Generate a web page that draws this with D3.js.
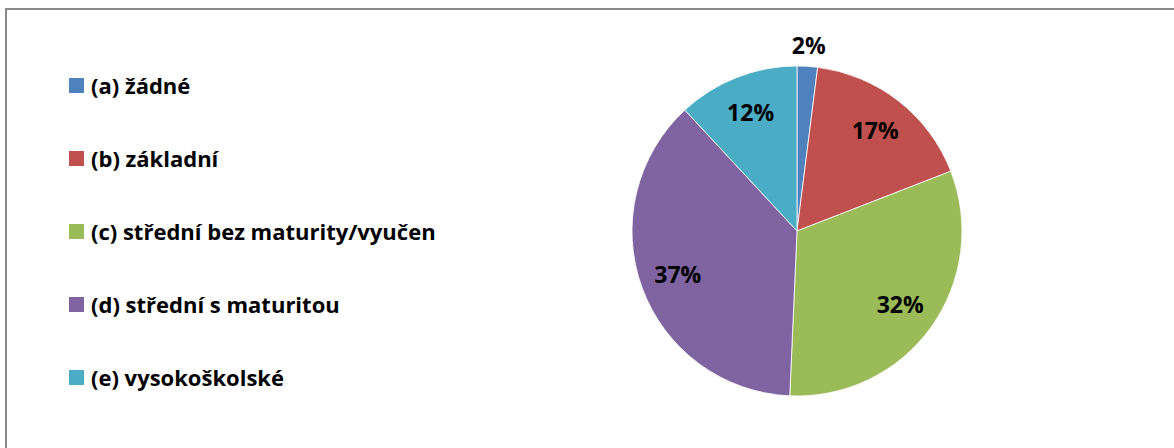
<!DOCTYPE html>
<html>
<head>
<meta charset="utf-8">
<script src="https://cdn.jsdelivr.net/npm/d3@7"></script>
<style>
  body { margin: 0; background: #fff; }
  text { font-family: "Open Sans", Lato, sans-serif; font-weight: bold; fill: #000; }
</style>
</head>
<body>
<svg id="chart" width="1174" height="448"></svg>
<script>
// education level shares (%)
const categories = ["(a) žádné", "(b) základní", "(c) střední bez maturity/vyučen", "(d) střední s maturitou", "(e) vysokoškolské"];
const values = [2.0, 17.1, 31.6, 37.4, 11.9];
const colors = ["#4F81BD", "#C0504D", "#9BBB59", "#8064A2", "#4BACC6"];

const svg = d3.select("#chart");

// chart frame (right and bottom edges run off the picture)
svg.append("rect")
    .attr("x", 6).attr("y", 9)
    .attr("width", 1200).attr("height", 500)
    .style("fill", "none")
    .style("stroke", "#898989")
    .style("stroke-width", 2);

const cx = 797, cy = 231, r = 165;

const pie = d3.pie().sort(null).value(d => d);
const arcs = pie(values);
const arc = d3.arc().innerRadius(0).outerRadius(r);
const labelArc = d3.arc().innerRadius(127).outerRadius(127);
const outerArc = d3.arc().innerRadius(186).outerRadius(186);

const g = svg.append("g").attr("transform", `translate(${cx},${cy})`);

g.selectAll("path")
    .data(arcs)
    .enter().append("path")
    .attr("d", arc)
    .style("fill", (d, i) => colors[i])
    .style("stroke", "#fff")
    .style("stroke-width", 0.8);

g.selectAll("text.pct")
    .data(arcs)
    .enter().append("text")
    .attr("class", "pct")
    .attr("transform", d => {
        // tiny slice gets its label outside the pie
        const p = (d.endAngle - d.startAngle) < 0.3 ? outerArc.centroid(d) : labelArc.centroid(d);
        return `translate(${p})`;
    })
    .attr("text-anchor", "middle")
    .attr("dy", "0.36em")
    .style("font-size", "23px")
    .text(d => Math.round(d.data) + "%");

// legend
const legend = svg.append("g").attr("transform", "translate(69,0)");
const rowY = d3.scalePoint().domain(categories).range([86, 378]);

const rows = legend.selectAll("g")
    .data(categories)
    .enter().append("g")
    .attr("transform", d => `translate(0,${rowY(d)})`);

rows.append("rect")
    .attr("x", 0).attr("y", -8)
    .attr("width", 15).attr("height", 15)
    .style("fill", (d, i) => colors[i]);

rows.append("text")
    .attr("x", 22)
    .attr("dy", "0.36em")
    .style("font-size", "22px")
    .text(d => d);
</script>
</body>
</html>
